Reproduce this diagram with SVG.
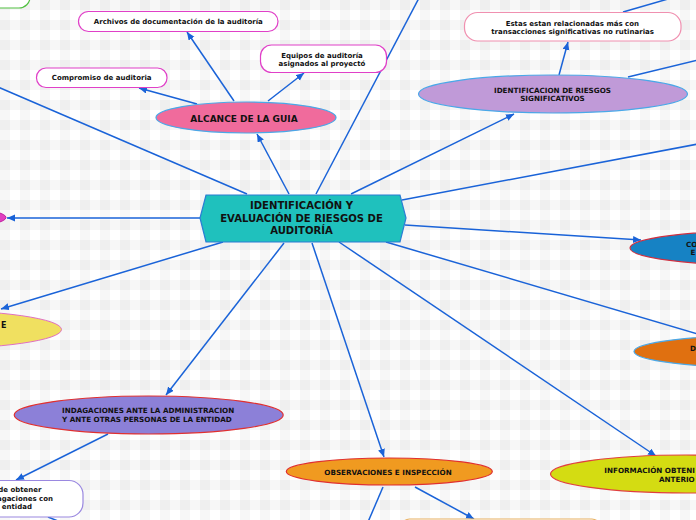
<svg xmlns="http://www.w3.org/2000/svg" width="696" height="520" viewBox="0 0 696 520">
<defs>
<pattern id="bg" width="20" height="20" patternUnits="userSpaceOnUse">
<rect width="20" height="20" fill="#ffffff"/>
<rect width="20" height="10" fill="#000" fill-opacity="0.03"/>
<rect width="10" height="20" fill="#000" fill-opacity="0.03"/>
</pattern>
<marker id="arr" markerUnits="userSpaceOnUse" markerWidth="9" markerHeight="8" refX="8" refY="3.5" orient="auto">
<path d="M0,0 L8,3.5 L0,7 z" fill="#1a63d8"/>
</marker>
<style>
.c{stroke:#1a63d8;stroke-width:1.5;fill:none}
.a{marker-end:url(#arr)}
text{font-family:"DejaVu Sans","Verdana",sans-serif;font-weight:bold;fill:#111}
.t7{font-size:7px;text-anchor:middle}
.e7{font-size:7.2px;text-anchor:middle}
.box{fill:#fff;stroke-width:1.2}
</style>
</defs>
<rect width="696" height="520" fill="url(#bg)"/>

<g id="connectors">
<line class="c a" x1="289" y1="194" x2="257" y2="134"/>
<line class="c" x1="247" y1="194" x2="-2" y2="87"/>
<line class="c" x1="316" y1="194" x2="419" y2="-2"/>
<line class="c a" x1="351" y1="194" x2="514" y2="114"/>
<line class="c" x1="402" y1="200" x2="698" y2="144"/>
<line class="c a" x1="405" y1="225" x2="641" y2="240"/>
<line class="c" x1="386" y1="242" x2="698" y2="334"/>
<line class="c a" x1="339" y1="242" x2="656" y2="456"/>
<line class="c a" x1="312" y1="243" x2="384" y2="457"/>
<line class="c a" x1="284" y1="243" x2="166" y2="395"/>
<line class="c a" x1="223" y1="242" x2="1" y2="309"/>
<line class="c a" x1="200" y1="218" x2="7" y2="218"/>
<line class="c a" x1="234" y1="101" x2="187" y2="32"/>
<line class="c a" x1="268" y1="101" x2="304" y2="73"/>
<line class="c a" x1="197" y1="104" x2="139" y2="88"/>
<line class="c a" x1="559" y1="75" x2="568" y2="42"/>
<line class="c" x1="623" y1="12" x2="668" y2="-1"/>
<line class="c" x1="628" y1="77" x2="698" y2="60"/>
<line class="c a" x1="108" y1="434" x2="16" y2="480"/>
<line class="c" x1="48" y1="517" x2="58" y2="521"/>
<line class="c" x1="383" y1="487" x2="368" y2="522"/>
<line class="c a" x1="415" y1="487" x2="474" y2="519"/>
</g>

<g id="n-top-green">
<rect class="box" x="-120" y="-30" width="150" height="38" rx="11" stroke="#50c040"/>
</g>

<g id="n-central">
<polygon points="200,218 206,195 400,195 406,218 400,242 206,242" fill="#1fc1bd" stroke="#2a7dd4" stroke-width="1.2"/>
<text style="font-size:10.1px;text-anchor:middle" x="301.5" y="209">IDENTIFICACIÓN Y</text>
<text style="font-size:10.1px;text-anchor:middle" x="301.5" y="221.5">EVALUACIÓN DE RIESGOS DE</text>
<text style="font-size:10.1px;text-anchor:middle" x="301.5" y="234">AUDITORÍA</text>
</g>

<g id="n-alcance">
<ellipse cx="246" cy="117.5" rx="90" ry="15.5" fill="#f06b9c" stroke="#4aa8e8" stroke-width="1.2"/>
<text style="font-size:9px;text-anchor:middle" x="244" y="121.5">ALCANCE DE LA GUIA</text>
</g>

<g id="n-archivos">
<rect class="box" x="78.5" y="11.5" width="199.5" height="20" rx="10" stroke="#e040c8"/>
<text class="t7" x="178.3" y="24">Archivos de documentación de la auditoría</text>
</g>

<g id="n-equipos">
<rect class="box" x="260.5" y="45" width="126" height="27.5" rx="11" stroke="#e040c8"/>
<text class="t7" x="322" y="57.5">Equipos de auditoría</text>
<text class="t7" x="322" y="66">asignados al proyectó</text>
</g>

<g id="n-compromiso">
<rect class="box" x="36.5" y="68" width="130.5" height="19.5" rx="9.5" stroke="#e040c8"/>
<text class="t7" x="101.7" y="80">Compromiso de auditoria</text>
</g>

<g id="n-ident">
<ellipse cx="553" cy="94" rx="134.5" ry="19" fill="#c09ad8" stroke="#4aa8e8" stroke-width="1.2"/>
<text class="e7" x="552.5" y="92.5">IDENTIFICACION DE RIESGOS</text>
<text class="e7" x="552.5" y="101.3">SIGNIFICATIVOS</text>
</g>

<g id="n-estas">
<rect class="box" x="464.5" y="12.5" width="216.5" height="28.5" rx="13" stroke="#f090b0"/>
<text class="t7" x="572.3" y="25.7">Estas estan relacionadas más con</text>
<text class="t7" x="572.6" y="34.3">transacciones significativas no rutinarias</text>
</g>

<g id="n-magenta">
<ellipse cx="-30" cy="217.5" rx="36" ry="8" fill="#e040c0" stroke="#c020a0" stroke-width="1"/>
</g>

<g id="n-co">
<ellipse cx="765" cy="248" rx="135" ry="17.5" fill="#1682c4" stroke="#d03040" stroke-width="1.2"/>
<text style="font-size:7.2px" x="686" y="246.5">CO</text>
<text style="font-size:7.2px" x="690.5" y="255">E</text>
</g>

<g id="n-d">
<ellipse cx="769" cy="351.5" rx="135" ry="16.5" fill="#e07010" stroke="#4aa8e8" stroke-width="1.2"/>
<text style="font-size:7.2px" x="690" y="350.5">D</text>
</g>

<g id="n-yellow">
<ellipse cx="-74" cy="329.5" rx="135.5" ry="19.5" fill="#f0e060" stroke="#e070c0" stroke-width="1"/>
<text style="font-size:8px;text-anchor:end" x="6.5" y="328">E</text>
</g>

<g id="n-indagaciones">
<ellipse cx="148.7" cy="415" rx="134.5" ry="19" fill="#8c80d8" stroke="#e03030" stroke-width="1.2"/>
<text style="font-size:7.2px" x="62" y="412.7">INDAGACIONES ANTE LA ADMINISTRACION</text>
<text style="font-size:7.2px" x="62" y="422">Y ANTE OTRAS PERSONAS DE LA ENTIDAD</text>
</g>

<g id="n-obtener">
<rect class="box" x="-80" y="480.5" width="163" height="36.5" rx="14" stroke="#9a88e0"/>
<text style="font-size:7px;text-anchor:end" x="41.5" y="492">de obtener</text>
<text style="font-size:7px;text-anchor:end" x="53" y="500.5">agaciones con</text>
<text style="font-size:7px;text-anchor:end" x="32" y="509">entidad</text>
</g>

<g id="n-observaciones">
<ellipse cx="389.3" cy="471.5" rx="103" ry="13.5" fill="#f09a20" stroke="#e03030" stroke-width="1.2"/>
<text class="e7" x="388" y="475.3">OBSERVACIONES E INSPECCIÓN</text>
</g>

<g id="n-informacion">
<ellipse cx="686" cy="474" rx="135.5" ry="19" fill="#d4dc12" stroke="#e04040" stroke-width="1.2"/>
<text style="font-size:7.2px" x="604.3" y="473.3">INFORMACIÓN OBTENI</text>
<text style="font-size:7.2px" x="659" y="481.5">ANTERIO</text>
</g>

<g id="n-bottom">
<rect class="box" x="401.5" y="519" width="198.5" height="40" rx="8" stroke="#e8b060"/>
</g>
</svg>
